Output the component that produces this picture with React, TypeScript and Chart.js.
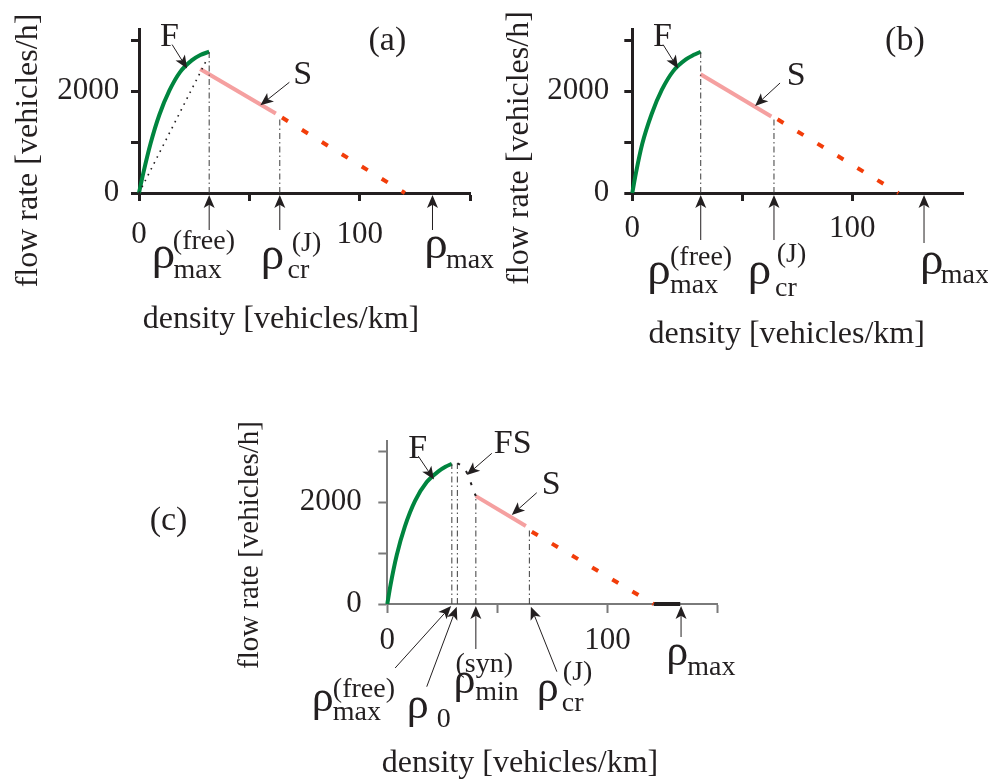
import { useEffect, useRef } from 'react';
import { Chart, registerables } from 'chart.js';

Chart.register(...registerables);

const PAGE_W = 988;
const PAGE_H = 780;
const SERIF = '"Liberation Serif", "Times New Roman", serif';
const INK = '#231f20';
const GREEN = '#00853f';
const PINK = '#f5a0a0';
const RED = '#f23d0a';
const GUIDE = '#3c3c3c';

// ---- axis ticks ----
const densityTicksFull = [0, 50, 100, 150];
const densityLabelsFull = ['0', '', '100', ''];
const densityTicksShort = [0, 50, 100];
const densityLabelsShort = ['0', '', '100'];
const flowTicks = [0, 1000, 2000, 3000];
const flowLabels = ['0', '', '2000', ''];

const X_TITLE = 'density [vehicles/km]';
const Y_TITLE = 'flow rate [vehicles/h]';

// ---- panel (a) ----
const freeDensityA = [0, 1.9, 5.3, 9.2, 13.8, 18.6, 23.9, 27.8, 31.8];
const freeFlowA = [0, 380, 980, 1530, 2010, 2370, 2600, 2705, 2770];
const chordDensityA = [0, 31];
const chordFlowA = [0, 2640];
const syncDensityA = [27.7, 62];
const syncFlowA = [2430, 1560];
const jamDensityA = [64.8, 120.5];
const jamFlowA = [1480, 0];
const markDensityA = [31.8, 63.8, 133];
const markFlowA = [2770, 1470, 0];

// ---- panel (b) ----
const freeDensityB = [0, 1.6, 4.5, 8.8, 13.4, 18.6, 24.7, 28, 31.1];
const freeFlowB = [0, 380, 960, 1550, 2020, 2390, 2630, 2710, 2770];
const syncDensityB = [31, 63.2];
const syncFlowB = [2330, 1500];
const jamDensityB = [66, 121];
const jamFlowB = [1445, 0];
const markDensityB = [31.1, 64.4, 132.6];
const markFlowB = [2770, 1440, 0];

// ---- panel (c) ----
const freeDensityC = [0, 1.5, 4.3, 8.0, 12.6, 17.9, 23.2, 26.4, 29.3];
const freeFlowC = [0, 380, 960, 1520, 2020, 2390, 2600, 2690, 2750];
const fsDensityC = [31.8, 34, 36.4, 38.3, 40.2];
const fsFlowC = [2760, 2700, 2550, 2330, 2115];
const syncDensityC = [40.2, 62.9];
const syncFlowC = [2115, 1529];
const jamDensityC = [65.6, 120.9];
const jamFlowC = [1418, 0];
const stopDensityC = [120.9, 133];
const stopFlowC = [0, 0];
const markDensityC = [29.3, 31.8, 40.2, 64.5, 133];
const markFlowC = [2750, 2760, 2115, 1450, 0];

type Pt = [number, number];

interface Series {
  xs: number[];
  ys: number[];
  color: string;
  width: number;
  dash?: number[];
  smooth?: boolean;
}

interface MarkLabel {
  mark: number; // index into the panel's mark arrays
  tip: Pt; // arrow tip, relative to (mark pixel, axis pixel)
  tail: Pt; // arrow tail, relative to the tip
  rho: Pt; // ρ left/baseline, relative to (mark pixel, axis pixel)
  sub: string;
  subAt: Pt;
  sup?: string;
  supAt?: Pt;
}

interface Callout {
  text: string;
  at: Pt; // arrow tip in data units
  tail: Pt; // relative to the tip
  textAt: Pt; // relative to the tail
}

interface Panel {
  name: string;
  area: { left: number; right: number; top: number; bottom: number };
  xMax: number;
  yMax: number;
  xTicks: number[];
  xLabels: string[];
  axisColor: string;
  axisWidth: number;
  tickLen: number;
  xLabelPad: number;
  yLabelPad: number;
  series: Series[];
  markDensity: number[];
  markFlow: number[];
  marks: MarkLabel[];
  callouts: Callout[];
  tag: { text: string; at: Pt };
  rhoSize: number;
  xTitle: { dx: number; dy: number; size: number };
  yTitle: { dx: number; dy: number; size: number };
}

const guideSeries = (xs: number[], ys: number[]): Series[] =>
  xs
    .map((d, i) => ({ d, top: ys[i] }))
    .filter((g) => g.top > 0)
    .map((g) => ({ xs: [g.d, g.d], ys: [0, g.top], color: GUIDE, width: 1, dash: [6, 3, 1.5, 3] }));

const panelA: Panel = {
  name: 'a',
  area: { left: 139, right: 470, top: 29.8, bottom: 193 },
  xMax: 150,
  yMax: 3200,
  xTicks: densityTicksFull,
  xLabels: densityLabelsFull,
  axisColor: INK,
  axisWidth: 3,
  tickLen: 8,
  xLabelPad: 15,
  yLabelPad: 11.7,
  series: [
    ...guideSeries(markDensityA, markFlowA),
    { xs: chordDensityA, ys: chordFlowA, color: INK, width: 1.6, dash: [1.6, 5] },
    { xs: freeDensityA, ys: freeFlowA, color: GREEN, width: 4, smooth: true },
    { xs: syncDensityA, ys: syncFlowA, color: PINK, width: 4 },
    { xs: jamDensityA, ys: jamFlowA, color: RED, width: 4, dash: [7, 16.4] },
  ],
  markDensity: markDensityA,
  markFlow: markFlowA,
  marks: [
    { mark: 0, tip: [0, 2], tail: [0, 35], rho: [-57.3, 75], sub: 'max', subAt: [21.7, 10], sup: '(free)', supAt: [21, -19] },
    { mark: 1, tip: [0, 2], tail: [0, 35], rho: [-19, 76], sub: 'cr', subAt: [26.7, 9], sup: '(J)', supAt: [31, -18] },
    { mark: 2, tip: [0, 2], tail: [0, 35], rho: [-8.3, 65], sub: 'max', subAt: [21.7, 10] },
  ],
  callouts: [
    { text: 'F', at: [21.8, 2440], tail: [-15, -24], textAt: [-12, 1] },
    { text: 'S', at: [55, 1720], tail: [29, -23], textAt: [4, 2] },
  ],
  tag: { text: '(a)', at: [104, 2800] },
  rhoSize: 47,
  xTitle: { dx: 142, dy: 135, size: 32 },
  yTitle: { dx: -101.7, dy: -42.5, size: 32 },
};

const panelB: Panel = {
  name: 'b',
  area: { left: 632.3, right: 963.4, top: 29.8, bottom: 193 },
  xMax: 150.5,
  yMax: 3200,
  xTicks: densityTicksShort,
  xLabels: densityLabelsShort,
  axisColor: INK,
  axisWidth: 3,
  tickLen: 8,
  xLabelPad: 9,
  yLabelPad: 15,
  series: [
    ...guideSeries(markDensityB, markFlowB),
    { xs: freeDensityB, ys: freeFlowB, color: GREEN, width: 4, smooth: true },
    { xs: syncDensityB, ys: syncFlowB, color: PINK, width: 4 },
    { xs: jamDensityB, ys: jamFlowB, color: RED, width: 4, dash: [7, 16.4] },
  ],
  markDensity: markDensityB,
  markFlow: markFlowB,
  marks: [
    { mark: 0, tip: [0, 2], tail: [0, 45], rho: [-53.4, 91], sub: 'max', subAt: [22.7, 9], sup: '(free)', supAt: [22.7, -19] },
    { mark: 1, tip: [0, 2], tail: [0, 45], rho: [-26.3, 91], sub: 'cr', subAt: [27.3, 12], sup: '(J)', supAt: [29, -22] },
    { mark: 2, tip: [0, 2], tail: [0, 48], rho: [-4, 81], sub: 'max', subAt: [20.7, 9] },
  ],
  callouts: [
    { text: 'F', at: [20.8, 2440], tail: [-15, -24], textAt: [-10, 1] },
    { text: 'S', at: [55.8, 1706], tail: [25, -23], textAt: [6.7, 2] },
  ],
  tag: { text: '(b)', at: [114.9, 2800] },
  rhoSize: 47,
  xTitle: { dx: 154.4, dy: 150, size: 32 },
  yTitle: { dx: -104.6, dy: -45, size: 32 },
};

const panelC: Panel = {
  name: 'c',
  area: { left: 387.3, right: 717.7, top: 440.8, bottom: 604 },
  xMax: 150,
  yMax: 3200,
  xTicks: densityTicksFull,
  xLabels: densityLabelsFull,
  axisColor: '#7a7a7a',
  axisWidth: 2,
  tickLen: 9,
  xLabelPad: 9.5,
  yLabelPad: 16.6,
  series: [
    ...guideSeries(markDensityC, markFlowC),
    { xs: freeDensityC, ys: freeFlowC, color: GREEN, width: 4, smooth: true },
    { xs: fsDensityC, ys: fsFlowC, color: INK, width: 2, dash: [3, 9], smooth: true },
    { xs: syncDensityC, ys: syncFlowC, color: PINK, width: 4 },
    { xs: jamDensityC, ys: jamFlowC, color: RED, width: 4, dash: [7, 16.4] },
    { xs: stopDensityC, ys: stopFlowC, color: INK, width: 4 },
  ],
  markDensity: markDensityC,
  markFlow: markFlowC,
  marks: [
    { mark: 0, tip: [-0.7, 2], tail: [-56, 62], rho: [-140, 107], sub: 'max', subAt: [21, 9], sup: '(free)', supAt: [21, -14] },
    { mark: 1, tip: [-0.6, 2.7], tail: [-30, 80], rho: [-50.6, 114], sub: '0', subAt: [30, 9] },
    { mark: 2, tip: [0, 2], tail: [0, 43], rho: [-22.4, 89], sub: 'min', subAt: [21.7, 7], sup: '(syn)', supAt: [2, -21] },
    { mark: 3, tip: [1.5, 2.7], tail: [26, 65], rho: [7.5, 97], sub: 'cr', subAt: [25, 10], sup: '(J)', supAt: [26, -21] },
    { mark: 4, tip: [0.8, 2], tail: [0, 31], rho: [-14, 61], sub: 'max', subAt: [21, 10] },
  ],
  callouts: [
    { text: 'F', at: [21.2, 2440], tail: [-15.7, -23.4], textAt: [-10, 2] },
    { text: 'FS', at: [36.1, 2529], tail: [25, -21.7], textAt: [2, 0] },
    { text: 'S', at: [56.5, 1745], tail: [25, -22.3], textAt: [5, 1] },
  ],
  tag: { text: '(c)', at: [-107.9, 1451] },
  rhoSize: 44,
  xTitle: { dx: 132.7, dy: 168, size: 32 },
  yTitle: { dx: -129.3, dy: -59, size: 29 },
};

const panels = [panelA, panelB, panelC];

function arrow(ctx: CanvasRenderingContext2D, x0: number, y0: number, x1: number, y1: number) {
  const ang = Math.atan2(y1 - y0, x1 - x0);
  const c = Math.cos(ang);
  const s = Math.sin(ang);
  const len = 13;
  const half = 5.5;
  ctx.strokeStyle = INK;
  ctx.fillStyle = INK;
  ctx.lineWidth = 1;
  ctx.setLineDash([]);
  ctx.beginPath();
  ctx.moveTo(x0, y0);
  ctx.lineTo(x1 - len * 0.7 * c, y1 - len * 0.7 * s);
  ctx.stroke();
  ctx.beginPath();
  ctx.moveTo(x1, y1);
  ctx.lineTo(x1 - len * c + half * s, y1 - len * s - half * c);
  ctx.lineTo(x1 - len * 0.75 * c, y1 - len * 0.75 * s);
  ctx.lineTo(x1 - len * c - half * s, y1 - len * s + half * c);
  ctx.closePath();
  ctx.fill();
}

const overlay = (p: Panel) => ({
  id: 'overlay-' + p.name,
  afterDatasetsDraw(chart: Chart) {
    const { ctx, chartArea } = chart;
    const xs = chart.scales.x;
    const ys = chart.scales.y;
    const axisY = ys.getPixelForValue(0);
    ctx.save();
    ctx.fillStyle = INK;
    ctx.textBaseline = 'alphabetic';
    ctx.textAlign = 'left';

    // density markers below the axis
    for (const m of p.marks) {
      const mx = xs.getPixelForValue(p.markDensity[m.mark]);
      const tx = mx + m.tip[0];
      const ty = axisY + m.tip[1];
      arrow(ctx, tx + m.tail[0], ty + m.tail[1], tx, ty);
      const rx = mx + m.rho[0];
      const ry = axisY + m.rho[1];
      ctx.fillStyle = INK;
      ctx.font = `${p.rhoSize}px ${SERIF}`;
      ctx.fillText('ρ', rx, ry);
      ctx.font = `28px ${SERIF}`;
      ctx.fillText(m.sub, rx + m.subAt[0], ry + m.subAt[1]);
      if (m.sup && m.supAt) ctx.fillText(m.sup, rx + m.supAt[0], ry + m.supAt[1]);
    }

    // branch names
    for (const c of p.callouts) {
      const tx = xs.getPixelForValue(c.at[0]);
      const ty = ys.getPixelForValue(c.at[1]);
      const lx = tx + c.tail[0];
      const ly = ty + c.tail[1];
      arrow(ctx, lx, ly, tx, ty);
      ctx.fillStyle = INK;
      ctx.font = `34px ${SERIF}`;
      ctx.fillText(c.text, lx + c.textAt[0], ly + c.textAt[1]);
    }

    // panel tag
    ctx.font = `34px ${SERIF}`;
    ctx.fillText(p.tag.text, xs.getPixelForValue(p.tag.at[0]), ys.getPixelForValue(p.tag.at[1]));

    // axis titles
    ctx.textAlign = 'center';
    ctx.font = `${p.xTitle.size}px ${SERIF}`;
    ctx.fillText(X_TITLE, chartArea.left + p.xTitle.dx, chartArea.bottom + p.xTitle.dy);
    ctx.translate(chartArea.left + p.yTitle.dx, chartArea.bottom + p.yTitle.dy);
    ctx.rotate(-Math.PI / 2);
    ctx.font = `${p.yTitle.size}px ${SERIF}`;
    ctx.fillText(Y_TITLE, 0, 0);
    ctx.restore();
  },
});

function buildConfig(p: Panel): any {
  const tickFont = { family: SERIF, size: 31 };
  const grid = {
    display: true,
    drawOnChartArea: false,
    drawTicks: true,
    tickLength: p.tickLen,
    tickWidth: p.axisWidth,
    tickColor: p.axisColor,
  };
  const border = { display: true, color: p.axisColor, width: p.axisWidth };
  // the scale boxes reach the page edges so their labels are never clipped
  const yBoxWidth = p.area.left;
  const xBoxHeight = PAGE_H - p.area.bottom;
  return {
    type: 'line',
    data: {
      datasets: p.series.map((s) => ({
        data: s.xs.map((x, i) => ({ x, y: s.ys[i] })),
        borderColor: s.color,
        borderWidth: s.width,
        borderDash: s.dash ?? [],
        borderCapStyle: 'butt',
        pointRadius: 0,
        fill: false,
        clip: false,
        tension: s.smooth ? 0.4 : 0,
        cubicInterpolationMode: s.smooth ? 'monotone' : 'default',
      })),
    },
    options: {
      responsive: false,
      animation: false,
      devicePixelRatio: 1,
      events: [],
      layout: {
        autoPadding: false,
        padding: {
          left: 0,
          right: PAGE_W - p.area.right,
          top: p.area.top,
          bottom: 0,
        },
      },
      plugins: {
        legend: { display: false },
        tooltip: { enabled: false },
        title: { display: false },
      },
      scales: {
        x: {
          type: 'linear',
          min: 0,
          max: p.xMax,
          afterFit: (s: any) => {
            s.height = xBoxHeight;
          },
          afterBuildTicks: (s: any) => {
            s.ticks = p.xTicks.map((v) => ({ value: v }));
          },
          ticks: {
            callback: (_v: any, i: number) => p.xLabels[i],
            font: tickFont,
            color: INK,
            padding: p.xLabelPad,
            maxRotation: 0,
            minRotation: 0,
            autoSkip: false,
          },
          grid,
          border,
        },
        y: {
          type: 'linear',
          min: 0,
          max: p.yMax,
          afterFit: (s: any) => {
            s.width = yBoxWidth;
          },
          afterBuildTicks: (s: any) => {
            s.ticks = flowTicks.map((v) => ({ value: v }));
          },
          ticks: {
            callback: (_v: any, i: number) => flowLabels[i],
            font: { ...tickFont, lineHeight: 0.9 },
            color: INK,
            padding: p.yLabelPad,
            autoSkip: false,
          },
          grid,
          border,
        },
      },
    },
    plugins: [overlay(p)],
  };
}

function PanelCanvas({ panel }: { panel: Panel }) {
  const ref = useRef<HTMLCanvasElement>(null);
  useEffect(() => {
    if (!ref.current) return;
    const chart = new Chart(ref.current, buildConfig(panel));
    return () => chart.destroy();
  }, [panel]);
  return (
    <canvas
      ref={ref}
      width={PAGE_W}
      height={PAGE_H}
      style={{ position: 'absolute', left: 0, top: 0, width: PAGE_W, height: PAGE_H }}
    />
  );
}

export default function App() {
  return (
    <div style={{ position: 'absolute', left: 0, top: 0, width: PAGE_W, height: PAGE_H, background: '#ffffff' }}>
      {panels.map((p) => (
        <PanelCanvas key={p.name} panel={p} />
      ))}
    </div>
  );
}
